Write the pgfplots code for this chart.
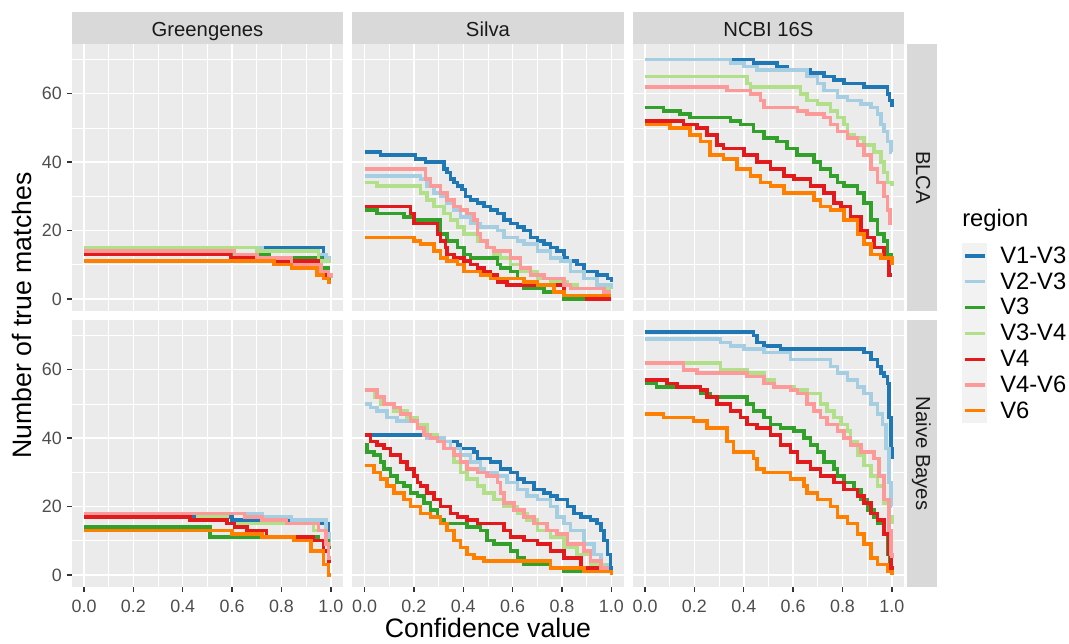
\documentclass[border=0pt]{standalone}
\usepackage{pgfplots}
\pgfplotsset{compat=1.18}
\usepackage{fontspec}
\setmainfont{Liberation Sans}

\definecolor{panelbg}{HTML}{EBEBEB}
\definecolor{stripbg}{HTML}{D9D9D9}
\definecolor{striptext}{HTML}{1A1A1A}
\definecolor{ticktext}{HTML}{4D4D4D}
\definecolor{tickmark}{HTML}{333333}
\definecolor{keybg}{HTML}{F2F2F2}
\definecolor{cA}{HTML}{1F78B4}
\definecolor{cB}{HTML}{A6CEE3}
\definecolor{cC}{HTML}{33A02C}
\definecolor{cD}{HTML}{B2DF8A}
\definecolor{cE}{HTML}{E31A1C}
\definecolor{cF}{HTML}{FB9A99}
\definecolor{cG}{HTML}{FF7F00}

\pgfplotsset{
  facet/.style={
    scale only axis, width=203.6pt, height=200.25pt,
    anchor=north west,
    xmin=-0.05, xmax=1.05, ymin=-3.55, ymax=74.55,
    axis background/.style={fill=panelbg},
    axis line style={draw=none},
    grid=both,
    major grid style={white, line width=1.1pt},
    minor grid style={white, line width=0.55pt},
    xtick={0,0.2,0.4,0.6,0.8,1},
    minor xtick={0.1,0.3,0.5,0.7,0.9},
    ytick={0,20,40,60},
    minor ytick={10,30,50,70},
    tick align=outside, tick pos=left,
    major tick length=3.4pt, minor tick length=0pt,
    major tick style={tickmark, line width=1pt},
    xmajorticks=false, ymajorticks=false,
    xticklabels={}, yticklabels={},
    tick label style={font=\fontsize{13.4}{15}\selectfont, text=ticktext},
    every axis plot/.append style={const plot, line width=2.7pt, no marks},
  },
  xlabs/.style={xmajorticks=true, xticklabels={0.0,0.2,0.4,0.6,0.8,1.0},
    xticklabel style={anchor=north, inner sep=0pt, yshift=-6.5pt}},
  ylabs/.style={ymajorticks=true, yticklabels={0,20,40,60},
    yticklabel style={anchor=east, inner sep=0pt, xshift=-3.8pt}},
  s1/.style={cA}, s2/.style={cB}, s3/.style={cC}, s4/.style={cD},
  s5/.style={cE}, s6/.style={cF}, s7/.style={cG},
}

\begin{document}
\begin{tikzpicture}
% frame of the page, in pixel units
\begin{scope}[x=0.75pt, y=-0.75pt]
  \path[use as bounding box] (0,0) rectangle (1069,643);
  % column strips
  \foreach \l/\name in {71.7/Greengenes, 352.2/Silva, 632.7/NCBI 16S} {
    \fill[stripbg] (\l,12) rectangle ++(271.5,32);
    \node[anchor=base, text=striptext, font=\fontsize{15.2}{18}\selectfont, inner sep=0pt]
      at (\l+135.75,36.7) {\name};
  }
  % row strips
  \foreach \t/\name in {44/BLCA, 320/Naive Bayes} {
    \fill[stripbg] (907,\t) rectangle ++(30,267);
    \node[anchor=base, rotate=-90, text=striptext, font=\fontsize{15.2}{18}\selectfont, inner sep=0pt]
      at (916,\t+133.5) {\name};
  }
  % axis titles
  \node[anchor=base, rotate=90, font=\fontsize{20}{24}\selectfont, inner sep=0pt]
    at (31.7,315.5) {Number of true matches};
  \node[anchor=base, font=\fontsize{20}{24}\selectfont, inner sep=0pt]
    at (488,637.3) {Confidence value};
  % legend
  \node[anchor=base west, font=\fontsize{17.8}{21}\selectfont, inner sep=0pt]
    at (962,226.7) {region};
  \fill[keybg] (962,243) rectangle (987,423);
  \foreach \c/\lab [count=\i from 0] in {cA/V1-V3, cB/V2-V3, cC/V3, cD/V3-V4, cE/V4, cF/V4-V6, cG/V6} {
    \draw[\c, line width=2.5pt] (965,256+25.8*\i) -- (985,256+25.8*\i);
    \node[anchor=base west, font=\fontsize{17.8}{21}\selectfont, inner sep=0pt]
      at (1000,263.3+25.8*\i) {\lab};
  }
\end{scope}

% ---------------- BLCA, Greengenes ----------------
\begin{axis}[facet, ylabs, at={(53.78pt,-33pt)}]
\addplot[s1] coordinates {(0,15)(0.97,12)(0.99,11)(1,11)};
\addplot[s2] coordinates {(0,15)(0.72,14)(0.95,13)(0.98,12)(1,12)};
\addplot[s3] coordinates {(0,13)(0.75,12)(0.96,9)(0.99,6)(1,6)};
\addplot[s4] coordinates {(0,15)(0.70,14)(0.95,11)(1,11)};
\addplot[s5] coordinates {(0,13)(0.593,12)(0.76,11)(0.95,8)(0.985,7)(1,6)};
\addplot[s6] coordinates {(0,14)(0.61,13)(0.70,12)(0.84,10)(0.96,8)(0.99,7)(1,6)};
\addplot[s7] coordinates {(0,11)(0.77,10)(0.84,9)(0.945,7)(0.97,6)(0.99,5)(1,5)};
\end{axis}

% ---------------- BLCA, Silva ----------------
\begin{axis}[facet, at={(264.15pt,-33pt)}]
\addplot[s1] coordinates {(0,43)(0.065,42)(0.207,41)(0.247,40)(0.322,38)(0.335,37)(0.349,35)(0.362,34)(0.376,33)(0.396,32)(0.409,30)(0.43,29)(0.457,28)(0.484,27)(0.511,26)(0.538,25)(0.565,23)(0.592,22)(0.619,21)(0.646,20)(0.673,18)(0.70,17)(0.727,16)(0.754,15)(0.781,14)(0.808,12)(0.822,11)(0.862,10)(0.889,8)(0.943,7)(0.984,6)(1,5)};
\addplot[s2] coordinates {(0,36)(0.227,35)(0.254,33)(0.281,31)(0.308,30)(0.335,28)(0.362,26)(0.389,24)(0.43,22)(0.47,21)(0.538,20)(0.565,18)(0.619,17)(0.646,16)(0.70,14)(0.754,12)(0.795,11)(0.835,8)(0.889,6)(0.943,4)(1,3)};
\addplot[s3] coordinates {(0,26)(0.051,25)(0.159,24)(0.2,23)(0.308,19)(0.335,17)(0.376,15)(0.403,13)(0.43,12)(0.538,10)(0.551,9)(0.592,8)(0.619,6)(0.646,3)(0.727,2)(0.808,0)(1,0)};
\addplot[s4] coordinates {(0,34)(0.051,33)(0.227,31)(0.254,29)(0.281,27)(0.322,25)(0.349,23)(0.376,21)(0.403,19)(0.457,17)(0.497,15)(0.524,13)(0.551,12)(0.592,10)(0.632,8)(0.70,6)(0.754,5)(0.822,4)(0.862,3)(1,3)};
\addplot[s5] coordinates {(0,27)(0.186,25)(0.2,22)(0.295,19)(0.308,17)(0.328,15)(0.335,13)(0.362,12)(0.403,11)(0.43,10)(0.457,9)(0.484,8)(0.511,7)(0.538,5)(0.578,4)(0.808,1)(0.9,0)(1,0)};
\addplot[s6] coordinates {(0,38)(0.247,35)(0.268,33)(0.308,31)(0.335,29)(0.362,27)(0.389,26)(0.416,25)(0.443,23)(0.457,19)(0.47,17)(0.497,15)(0.524,14)(0.592,12)(0.632,9)(0.673,7)(0.727,6)(0.808,4)(0.835,3)(0.97,2)(1,2)};
\addplot[s7] coordinates {(0,18)(0.2,17)(0.227,16)(0.281,14)(0.308,12)(0.335,11)(0.376,10)(0.403,8)(0.47,7)(0.511,6)(0.646,5)(0.70,4)(0.768,2)(0.808,1)(1,1)};
\end{axis}

% ---------------- BLCA, NCBI 16S ----------------
\begin{axis}[facet, at={(474.53pt,-33pt)}]
\addplot[s1] coordinates {(0,70)(0.44,69)(0.535,68)(0.576,67)(0.671,66)(0.725,65)(0.766,64)(0.806,63)(0.888,62)(0.982,60)(0.99,58)(1,56)};
\addplot[s2] coordinates {(0,70)(0.346,69)(0.4,68)(0.454,67)(0.657,65)(0.698,63)(0.725,61)(0.779,59)(0.82,58)(0.874,57)(0.915,56)(0.942,54)(0.955,51)(0.969,49)(0.982,46)(0.996,43)(1,43)};
\addplot[s3] coordinates {(0,56)(0.075,55)(0.142,54)(0.183,53)(0.346,52)(0.386,51)(0.44,49)(0.481,47)(0.535,46)(0.576,44)(0.616,42)(0.684,40)(0.711,38)(0.752,36)(0.779,34)(0.806,33)(0.861,31)(0.888,28)(0.915,23)(0.942,19)(0.969,17)(0.982,13)(0.996,11)(1,10)};
\addplot[s4] coordinates {(0,65)(0.413,63)(0.427,62)(0.63,60)(0.657,58)(0.698,57)(0.752,55)(0.779,53)(0.806,51)(0.82,48)(0.847,47)(0.888,45)(0.928,43)(0.955,40)(0.969,37)(0.982,34)(1,33)};
\addplot[s5] coordinates {(0,52)(0.156,51)(0.21,50)(0.251,48)(0.291,45)(0.318,44)(0.4,42)(0.454,40)(0.508,38)(0.562,36)(0.603,35)(0.671,33)(0.725,31)(0.766,28)(0.793,27)(0.833,24)(0.874,20)(0.901,18)(0.928,15)(0.969,12)(0.989,7)(1,7)};
\addplot[s6] coordinates {(0,62)(0.332,61)(0.427,60)(0.467,58)(0.481,56)(0.617,55)(0.657,54)(0.725,53)(0.752,51)(0.779,49)(0.82,47)(0.861,45)(0.888,42)(0.915,38)(0.942,34)(0.969,30)(0.982,26)(0.993,22)(1,22)};
\addplot[s7] coordinates {(0,51)(0.102,50)(0.183,48)(0.224,46)(0.264,42)(0.318,41)(0.373,38)(0.427,36)(0.467,34)(0.508,33)(0.562,31)(0.684,29)(0.711,27)(0.752,26)(0.806,23)(0.861,19)(0.888,16)(0.915,13)(0.955,12)(1,10)};
\end{axis}

% ---------------- Naive Bayes, Greengenes ----------------
\begin{axis}[facet, xlabs, ylabs, at={(53.78pt,-240pt)}]
\addplot[s1] coordinates {(0,17)(0.6,16)(0.95,15)(0.99,10)(1,10)};
\addplot[s2] coordinates {(0,18)(0.72,17)(0.84,16)(0.98,12)(0.995,8)(1,8)};
\addplot[s3] coordinates {(0,14)(0.51,11)(0.95,10)(0.99,8)(1,8)};
\addplot[s4] coordinates {(0,18)(0.46,17)(0.58,15)(0.93,13)(0.98,9)(1,9)};
\addplot[s5] coordinates {(0,17)(0.43,16)(0.58,15)(0.61,14)(0.66,13)(0.74,11)(0.93,10)(0.97,7)(0.99,4)(1,4)};
\addplot[s6] coordinates {(0,18)(0.65,17)(0.72,16)(0.82,15)(0.95,13)(0.98,9)(0.99,5)(1,5)};
\addplot[s7] coordinates {(0,13)(0.6,12)(0.72,11)(0.85,10)(0.92,7)(0.97,3)(0.99,0)(1,0)};
\end{axis}

% ---------------- Naive Bayes, Silva ----------------
\begin{axis}[facet, xlabs, at={(264.15pt,-240pt)}]
\addplot[s1] coordinates {(0,41)(0.254,40)(0.296,39)(0.376,38)(0.389,37)(0.443,36)(0.457,34)(0.511,33)(0.551,31)(0.592,30)(0.619,28)(0.646,27)(0.686,25)(0.727,24)(0.754,23)(0.781,22)(0.822,20)(0.849,18)(0.876,17)(0.916,16)(0.943,15)(0.957,13)(0.97,10)(0.984,6)(0.997,2)(1,1)};
\addplot[s2] coordinates {(0,50)(0.024,49)(0.051,48)(0.092,46)(0.132,45)(0.214,43)(0.24,41)(0.254,40)(0.322,39)(0.349,37)(0.389,35)(0.43,33)(0.47,31)(0.484,30)(0.538,29)(0.578,27)(0.619,25)(0.659,23)(0.70,22)(0.754,20)(0.781,17)(0.808,15)(0.835,13)(0.889,9)(0.93,6)(0.957,3)(0.984,1)(1,1)};
\addplot[s3] coordinates {(0,38)(0.011,36)(0.038,35)(0.065,33)(0.078,31)(0.105,29)(0.132,27)(0.159,26)(0.186,24)(0.214,23)(0.24,21)(0.268,19)(0.295,17)(0.308,16)(0.322,15)(0.416,14)(0.47,13)(0.497,10)(0.524,9)(0.592,7)(0.619,5)(0.646,3)(0.754,2)(0.808,1)(1,1)};
\addplot[s4] coordinates {(0,54)(0.04,52)(0.065,50)(0.119,48)(0.173,46)(0.214,44)(0.254,41)(0.295,39)(0.322,37)(0.362,33)(0.389,30)(0.416,28)(0.457,26)(0.484,24)(0.524,22)(0.565,20)(0.619,18)(0.659,16)(0.70,13)(0.754,11)(0.808,8)(0.862,6)(0.916,3)(0.97,1)(1,1)};
\addplot[s5] coordinates {(0,41)(0.024,39)(0.051,38)(0.078,37)(0.105,35)(0.146,33)(0.173,31)(0.2,29)(0.214,27)(0.227,26)(0.254,24)(0.281,22)(0.308,20)(0.349,18)(0.376,17)(0.416,16)(0.457,15)(0.565,13)(0.592,11)(0.646,10)(0.70,9)(0.754,7)(0.808,5)(0.876,2)(0.943,1)(1,1)};
\addplot[s6] coordinates {(0,54)(0.051,52)(0.078,50)(0.119,49)(0.146,47)(0.186,45)(0.214,43)(0.24,41)(0.268,40)(0.295,39)(0.322,37)(0.362,35)(0.389,33)(0.416,31)(0.457,30)(0.497,29)(0.538,27)(0.551,24)(0.565,21)(0.605,19)(0.646,17)(0.686,15)(0.74,13)(0.781,12)(0.822,9)(0.889,7)(0.916,4)(0.957,2)(0.984,1)(1,1)};
\addplot[s7] coordinates {(0,32)(0.038,30)(0.065,28)(0.092,26)(0.119,24)(0.159,22)(0.186,20)(0.227,18)(0.268,17)(0.308,15)(0.335,13)(0.362,10)(0.389,8)(0.416,6)(0.443,5)(0.484,4)(0.754,2)(0.889,1)(1,0)};
\end{axis}

% ---------------- Naive Bayes, NCBI 16S ----------------
\begin{axis}[facet, xlabs, at={(474.53pt,-240pt)}]
\addplot[s1] coordinates {(0,71)(0.44,70)(0.454,68)(0.481,67)(0.549,66)(0.888,65)(0.915,63)(0.942,61)(0.955,59)(0.969,58)(0.982,56)(0.989,46)(0.996,37)(1,34)};
\addplot[s2] coordinates {(0,69)(0.305,68)(0.346,67)(0.40,66)(0.481,65)(0.589,63)(0.752,61)(0.779,59)(0.82,57)(0.861,55)(0.888,53)(0.915,50)(0.942,47)(0.962,44)(0.976,37)(0.989,27)(0.997,20)(1,20)};
\addplot[s3] coordinates {(0,56)(0.047,55)(0.224,53)(0.264,52)(0.413,50)(0.44,48)(0.481,46)(0.508,44)(0.549,43)(0.603,42)(0.644,40)(0.671,38)(0.698,36)(0.725,33)(0.766,31)(0.779,29)(0.806,27)(0.847,25)(0.874,22)(0.901,19)(0.928,17)(0.942,15)(0.969,12)(0.982,6)(0.993,2)(1,1)};
\addplot[s4] coordinates {(0,62)(0.305,60)(0.413,59)(0.481,57)(0.522,55)(0.603,54)(0.657,53)(0.711,50)(0.738,48)(0.766,46)(0.793,44)(0.82,42)(0.833,39)(0.861,35)(0.888,32)(0.915,29)(0.942,26)(0.969,21)(0.989,17)(1,15)};
\addplot[s5] coordinates {(0,57)(0.088,56)(0.129,55)(0.224,54)(0.251,52)(0.291,50)(0.346,48)(0.386,46)(0.413,44)(0.454,43)(0.508,41)(0.549,38)(0.589,36)(0.617,33)(0.671,31)(0.711,29)(0.766,27)(0.806,25)(0.861,23)(0.888,21)(0.915,18)(0.942,16)(0.969,12)(0.989,6)(0.996,2)(1,1)};
\addplot[s6] coordinates {(0,62)(0.156,60)(0.21,59)(0.413,58)(0.481,56)(0.522,55)(0.589,54)(0.617,53)(0.657,50)(0.684,48)(0.711,46)(0.738,44)(0.779,42)(0.806,40)(0.833,38)(0.874,36)(0.928,34)(0.949,29)(0.969,22)(0.989,13)(0.996,6)(1,5)};
\addplot[s7] coordinates {(0,47)(0.075,46)(0.196,45)(0.251,43)(0.332,39)(0.359,36)(0.44,34)(0.454,31)(0.481,30)(0.589,28)(0.644,26)(0.657,24)(0.698,22)(0.752,20)(0.779,17)(0.82,15)(0.861,12)(0.888,9)(0.915,5)(0.942,3)(0.982,1)(1,0)};
\end{axis}
\end{tikzpicture}
\end{document}
